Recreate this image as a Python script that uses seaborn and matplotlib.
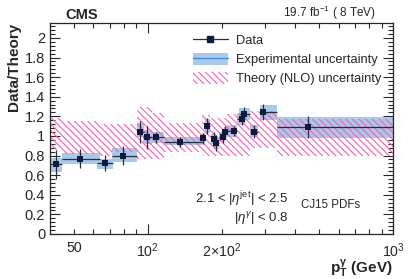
import matplotlib
matplotlib.use('Agg')
import numpy as np
import pandas as pd
import matplotlib.pyplot as plt
import seaborn as sns
from matplotlib.patches import Patch
from matplotlib.lines import Line2D
from matplotlib.ticker import FixedLocator, FixedFormatter, MultipleLocator, FuncFormatter

# data points (ratio data / NLO theory)
pt = [42.4, 53.2, 66.7, 79.7, 93.4, 99.4, 108.5, 135.8, 168.9, 175.3,
      186.6, 190.3, 202.6, 206.4, 225.2, 242.2, 247.6, 270.6, 294.5, 451.5]
ratio = [0.71, 0.77, 0.725, 0.80, 1.04, 0.985, 0.985, 0.935, 0.975, 1.10,
         0.97, 0.925, 0.99, 1.04, 1.05, 1.17, 1.22, 1.045, 1.245, 1.09]
pt_lo = [40, 44.7, 62, 71.4, 90.2, 96, 104.2, 116.2, 166.4, 172,
         182, 187, 196, 204, 211.3, 231, 235, 261.6, 287, 335.7]
pt_hi = [44.7, 64, 72, 90.2, 97, 104.2, 116.2, 166.4, 172, 180,
         190, 196, 206, 211, 230.9, 247, 261.6, 282.6, 335.7, 1000]
stat_err = [0.145, 0.10, 0.085, 0.095, 0.11, 0.12, 0.06, 0.05, 0.06, 0.08,
            0.07, 0.08, 0.06, 0.06, 0.05, 0.06, 0.08, 0.07, 0.08, 0.11]
exp_lo = [0.636, 0.71, 0.66, 0.73, 0.99, 0.92, 0.93, 0.91, 0.92, 1.03,
          0.92, 0.87, 0.94, 0.99, 0.99, 1.11, 1.16, 0.99, 1.16, 0.98]
exp_hi = [0.773, 0.83, 0.76, 0.875, 1.13, 1.06, 1.04, 0.99, 1.03, 1.17,
          1.02, 0.98, 1.04, 1.09, 1.11, 1.23, 1.28, 1.11, 1.32, 1.19]

# theory (NLO) uncertainty band
th_edges = [40, 44.7, 64, 71.4, 90.2, 104.2, 116.2, 166.4, 180, 211, 261.6, 335.7, 1000]
th_lo = [0.86, 0.82, 0.80, 0.84, 0.76, 0.76, 0.84, 0.80, 0.80, 0.80, 0.88, 0.80]
th_hi = [1.18, 1.15, 1.12, 1.12, 1.30, 1.23, 1.13, 1.21, 1.18, 1.22, 1.25, 1.17]

df = pd.DataFrame({'pt': pt, 'ratio': ratio, 'lo': pt_lo, 'hi': pt_hi,
                   'stat': stat_err, 'exp_lo': exp_lo, 'exp_hi': exp_hi})

sns.set_style('ticks')
plt.rcParams['font.family'] = ['Liberation Sans', 'DejaVu Sans']
plt.rcParams['mathtext.fontset'] = 'custom'
plt.rcParams['mathtext.rm'] = 'Liberation Sans'
plt.rcParams['mathtext.it'] = 'Liberation Sans:italic'
plt.rcParams['mathtext.bf'] = 'Liberation Sans:bold'
plt.rcParams['hatch.linewidth'] = 0.8

c_blue = '#a7c9ea'
c_bline = '#4a8fd6'
c_pink = '#ff5cb0'
c_navy = '#0b1b3d'
hatch = '\\' * 5

fig = plt.figure(figsize=(4.11, 2.79), dpi=100)
ax = fig.add_axes([0.1217, 0.1613, 0.8345, 0.7573])
ax.set_xscale('log')

# experimental uncertainty boxes
ax.bar(df['lo'], df['exp_hi'] - df['exp_lo'], width=df['hi'] - df['lo'],
       bottom=df['exp_lo'], align='edge', color=c_blue, linewidth=0, zorder=1)

# theory band (hatched)
e = np.array(th_edges)
ax.bar(e[:-1], np.array(th_hi) - np.array(th_lo), width=e[1:] - e[:-1],
       bottom=th_lo, align='edge', facecolor='none', edgecolor=c_pink,
       hatch=hatch, linewidth=0, zorder=2)

# data
xerr = [df['pt'] - df['lo'], df['hi'] - df['pt']]
ax.errorbar(df['pt'], df['ratio'], xerr=xerr, yerr=df['stat'], fmt='none',
            ecolor='#2a2f3a', elinewidth=0.9, capsize=0, zorder=3)
sns.scatterplot(data=df, x='pt', y='ratio', marker='s', color=c_navy, s=22,
                edgecolor=c_navy, linewidth=0, ax=ax, zorder=4)

ax.set_xlim(40, 1000)
ax.set_ylim(0, 2.155)

# ticks
ax.xaxis.set_major_locator(FixedLocator([100, 1000]))
ax.xaxis.set_major_formatter(FixedFormatter([r'$10^{2}$', r'$10^{3}$']))
minors = [40, 50, 60, 70, 80, 90, 200, 300, 400, 500, 600, 700, 800, 900]
ax.xaxis.set_minor_locator(FixedLocator(minors))
ax.xaxis.set_minor_formatter(FixedFormatter(
    ['', '50', '', '', '', '', r'$2\!\times\!10^{2}$', '', '', '', '', '', '', '']))
ax.yaxis.set_major_locator(MultipleLocator(0.2))
ax.yaxis.set_minor_locator(MultipleLocator(0.04))
ax.yaxis.set_major_formatter(FuncFormatter(lambda v, p: '%g' % round(v, 2)))
ax.tick_params(which='both', direction='in', top=True, right=True, labelsize=10.5, width=0.8)
ax.tick_params(which='major', length=7)
ax.tick_params(which='minor', length=3.5)
ax.tick_params(axis='x', which='both', pad=5, labelsize=10.2)
for s in ax.spines.values():
    s.set_linewidth(0.9)

ax.set_xlabel(r'$\mathbf{p_{T}^{\gamma}}$ (GeV)', fontsize=11, fontweight='bold', loc='right')
ax.xaxis.set_label_coords(1.0, -0.112)
ax.xaxis.label.set_va('top')
ax.set_ylabel('Data/Theory', fontsize=11, fontweight='bold', loc='top')
ax.yaxis.set_label_coords(-0.085, 1.0)

# labels
fig.text(0.158, 0.946, 'CMS', fontsize=10.5, fontweight='bold', va='center', ha='left')
fig.text(0.915, 0.939, r'19.7 fb$^{-1}$ ( 8 TeV)', fontsize=8.5, ha='right', va='baseline')
ax.text(0.695, 0.165, r'2.1 < |$\eta^{\mathrm{jet}}$| < 2.5', transform=ax.transAxes,
        fontsize=9.5, ha='right', va='center')
ax.text(0.695, 0.075, r'|$\eta^{\gamma}$| < 0.8', transform=ax.transAxes,
        fontsize=9.5, ha='right', va='center')
ax.text(0.733, 0.135, 'CJ15 PDFs', transform=ax.transAxes, fontsize=8.3, ha='left', va='center')

# legend
h_data = Line2D([], [], color='#2a2f3a', lw=0.9, marker='s', markersize=4.5,
                markerfacecolor=c_navy, markeredgecolor=c_navy)
h_exp = (Patch(facecolor=c_blue, linewidth=0), Line2D([], [], color=c_bline, lw=1))
h_th = Patch(facecolor='none', edgecolor=c_pink, hatch=hatch, linewidth=0)
ax.legend([h_data, h_exp, h_th],
          ['Data', 'Experimental uncertainty', 'Theory (NLO) uncertainty'],
          loc='upper left', bbox_to_anchor=(0.417, 0.948), frameon=False,
          fontsize=9.3, borderpad=0, borderaxespad=0, handlelength=2.7,
          handleheight=1.1, handletextpad=0.62, labelspacing=0.42)

fig.savefig('out.png', dpi=100)
